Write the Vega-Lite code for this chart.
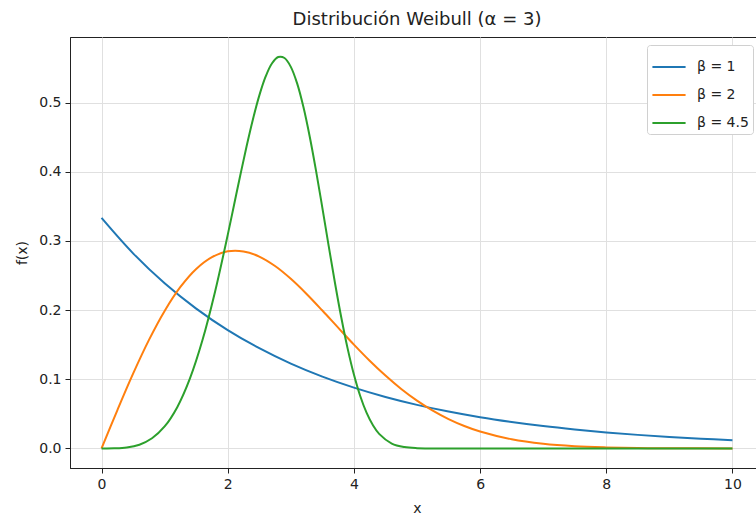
{
  "$schema": "https://vega.github.io/schema/vega-lite/v6.json",
  "width": 694,
  "height": 431,
  "autosize": {"type": "none"},
  "padding": {"left": 70, "top": 37, "right": 0, "bottom": 46},
  "background": "white",
  "config": {
    "font": "DejaVu Sans",
    "view": {"stroke": "#222222", "strokeWidth": 1},
    "axis": {"labelFont": "DejaVu Sans", "titleFont": "DejaVu Sans", "labelFontSize": 14, "titleFontSize": 14, "labelColor": "#222222", "titleColor": "#222222", "titleFontWeight": "normal", "domainColor": "#222222", "tickColor": "#222222", "tickSize": 5, "labelPadding": 4, "gridColor": "#e0e0e0", "gridWidth": 1}
  },
  "title": {"text": "Distribución Weibull (α = 3)", "fontSize": 18, "fontWeight": "normal", "font": "DejaVu Sans", "color": "#222222", "offset": 8},
  "data": {"values": [
    {"x": 0, "f": 0.3333, "beta": "β = 1"},
    {"x": 0.5, "f": 0.2821, "beta": "β = 1"},
    {"x": 1, "f": 0.2388, "beta": "β = 1"},
    {"x": 1.5, "f": 0.2022, "beta": "β = 1"},
    {"x": 2, "f": 0.1711, "beta": "β = 1"},
    {"x": 2.5, "f": 0.1449, "beta": "β = 1"},
    {"x": 3, "f": 0.1226, "beta": "β = 1"},
    {"x": 3.5, "f": 0.1038, "beta": "β = 1"},
    {"x": 4, "f": 0.0879, "beta": "β = 1"},
    {"x": 4.5, "f": 0.0744, "beta": "β = 1"},
    {"x": 5, "f": 0.063, "beta": "β = 1"},
    {"x": 5.5, "f": 0.0533, "beta": "β = 1"},
    {"x": 6, "f": 0.0451, "beta": "β = 1"},
    {"x": 6.5, "f": 0.0382, "beta": "β = 1"},
    {"x": 7, "f": 0.0323, "beta": "β = 1"},
    {"x": 7.5, "f": 0.0274, "beta": "β = 1"},
    {"x": 8, "f": 0.0232, "beta": "β = 1"},
    {"x": 8.5, "f": 0.0196, "beta": "β = 1"},
    {"x": 9, "f": 0.0166, "beta": "β = 1"},
    {"x": 9.5, "f": 0.014, "beta": "β = 1"},
    {"x": 10, "f": 0.0119, "beta": "β = 1"},
    {"x": 0, "f": 0, "beta": "β = 2"},
    {"x": 0.25, "f": 0.0552, "beta": "β = 2"},
    {"x": 0.5, "f": 0.1081, "beta": "β = 2"},
    {"x": 0.75, "f": 0.1566, "beta": "β = 2"},
    {"x": 1, "f": 0.1988, "beta": "β = 2"},
    {"x": 1.25, "f": 0.2335, "beta": "β = 2"},
    {"x": 1.5, "f": 0.2596, "beta": "β = 2"},
    {"x": 1.75, "f": 0.2767, "beta": "β = 2"},
    {"x": 2, "f": 0.285, "beta": "β = 2"},
    {"x": 2.25, "f": 0.2849, "beta": "β = 2"},
    {"x": 2.5, "f": 0.2775, "beta": "β = 2"},
    {"x": 2.75, "f": 0.2638, "beta": "β = 2"},
    {"x": 3, "f": 0.2453, "beta": "β = 2"},
    {"x": 3.25, "f": 0.2234, "beta": "β = 2"},
    {"x": 3.5, "f": 0.1994, "beta": "β = 2"},
    {"x": 3.75, "f": 0.1747, "beta": "β = 2"},
    {"x": 4, "f": 0.1502, "beta": "β = 2"},
    {"x": 4.25, "f": 0.1269, "beta": "β = 2"},
    {"x": 4.5, "f": 0.1054, "beta": "β = 2"},
    {"x": 4.75, "f": 0.086, "beta": "β = 2"},
    {"x": 5, "f": 0.0691, "beta": "β = 2"},
    {"x": 5.25, "f": 0.0546, "beta": "β = 2"},
    {"x": 5.5, "f": 0.0424, "beta": "β = 2"},
    {"x": 5.75, "f": 0.0324, "beta": "β = 2"},
    {"x": 6, "f": 0.0244, "beta": "β = 2"},
    {"x": 6.5, "f": 0.0132, "beta": "β = 2"},
    {"x": 7, "f": 0.0067, "beta": "β = 2"},
    {"x": 7.5, "f": 0.0032, "beta": "β = 2"},
    {"x": 8, "f": 0.0015, "beta": "β = 2"},
    {"x": 8.5, "f": 0.0006, "beta": "β = 2"},
    {"x": 9, "f": 0.00025, "beta": "β = 2"},
    {"x": 10, "f": 0.00003, "beta": "β = 2"},
    {"x": 0, "f": 0, "beta": "β = 4.5"},
    {"x": 0.2, "f": 0.0001, "beta": "β = 4.5"},
    {"x": 0.4, "f": 0.0013, "beta": "β = 4.5"},
    {"x": 0.6, "f": 0.0054, "beta": "β = 4.5"},
    {"x": 0.8, "f": 0.0147, "beta": "β = 4.5"},
    {"x": 1.0, "f": 0.0318, "beta": "β = 4.5"},
    {"x": 1.2, "f": 0.0597, "beta": "β = 4.5"},
    {"x": 1.4, "f": 0.1009, "beta": "β = 4.5"},
    {"x": 1.6, "f": 0.1567, "beta": "β = 4.5"},
    {"x": 1.8, "f": 0.227, "beta": "β = 4.5"},
    {"x": 2.0, "f": 0.3088, "beta": "β = 4.5"},
    {"x": 2.1, "f": 0.3521, "beta": "β = 4.5"},
    {"x": 2.2, "f": 0.3954, "beta": "β = 4.5"},
    {"x": 2.3, "f": 0.4374, "beta": "β = 4.5"},
    {"x": 2.4, "f": 0.4762, "beta": "β = 4.5"},
    {"x": 2.5, "f": 0.5102, "beta": "β = 4.5"},
    {"x": 2.6, "f": 0.5376, "beta": "β = 4.5"},
    {"x": 2.7, "f": 0.5567, "beta": "β = 4.5"},
    {"x": 2.8, "f": 0.566, "beta": "β = 4.5"},
    {"x": 2.9, "f": 0.5646, "beta": "β = 4.5"},
    {"x": 3.0, "f": 0.5518, "beta": "β = 4.5"},
    {"x": 3.1, "f": 0.5279, "beta": "β = 4.5"},
    {"x": 3.2, "f": 0.4937, "beta": "β = 4.5"},
    {"x": 3.3, "f": 0.4508, "beta": "β = 4.5"},
    {"x": 3.4, "f": 0.4015, "beta": "β = 4.5"},
    {"x": 3.5, "f": 0.3479, "beta": "β = 4.5"},
    {"x": 3.6, "f": 0.2929, "beta": "β = 4.5"},
    {"x": 3.7, "f": 0.2393, "beta": "β = 4.5"},
    {"x": 3.8, "f": 0.1893, "beta": "β = 4.5"},
    {"x": 3.9, "f": 0.1447, "beta": "β = 4.5"},
    {"x": 4.0, "f": 0.1068, "beta": "β = 4.5"},
    {"x": 4.1, "f": 0.0758, "beta": "β = 4.5"},
    {"x": 4.2, "f": 0.0517, "beta": "β = 4.5"},
    {"x": 4.3, "f": 0.0338, "beta": "β = 4.5"},
    {"x": 4.4, "f": 0.0211, "beta": "β = 4.5"},
    {"x": 4.6, "f": 0.0071, "beta": "β = 4.5"},
    {"x": 4.8, "f": 0.002, "beta": "β = 4.5"},
    {"x": 5.0, "f": 0.0004, "beta": "β = 4.5"},
    {"x": 5.5, "f": 0, "beta": "β = 4.5"},
    {"x": 6, "f": 0, "beta": "β = 4.5"},
    {"x": 8, "f": 0, "beta": "β = 4.5"},
    {"x": 10, "f": 0, "beta": "β = 4.5"}
  ]},
  "mark": {"type": "line", "strokeWidth": 2, "interpolate": "catmull-rom"},
  "encoding": {
    "x": {"field": "x", "type": "quantitative", "title": "x",
      "scale": {"domain": [-0.5, 10.5], "nice": false, "zero": false},
      "axis": {"values": [0, 2, 4, 6, 8, 10], "format": "d", "titlePadding": 10}},
    "y": {"field": "f", "type": "quantitative", "title": "f(x)",
      "scale": {"domain": [-0.0283, 0.595], "nice": false, "zero": false},
      "axis": {"values": [0, 0.1, 0.2, 0.3, 0.4, 0.5], "format": ".1f", "titlePadding": 9}},
    "color": {"field": "beta", "type": "nominal",
      "scale": {"domain": ["β = 1", "β = 2", "β = 4.5"], "range": ["#1f77b4", "#ff7f0e", "#2ca02c"]},
      "legend": {"title": null, "orient": "none", "legendX": 577, "legendY": 8,
        "symbolType": "M-1,0H1", "symbolSize": 1100, "symbolStrokeWidth": 2,
        "labelFontSize": 14, "labelFont": "DejaVu Sans", "labelColor": "#222222",
        "rowPadding": 3, "padding": 4, "cornerRadius": 3,
        "strokeColor": "#d0d0d0", "fillColor": "white", "labelOffset": 10}}
  }
}
